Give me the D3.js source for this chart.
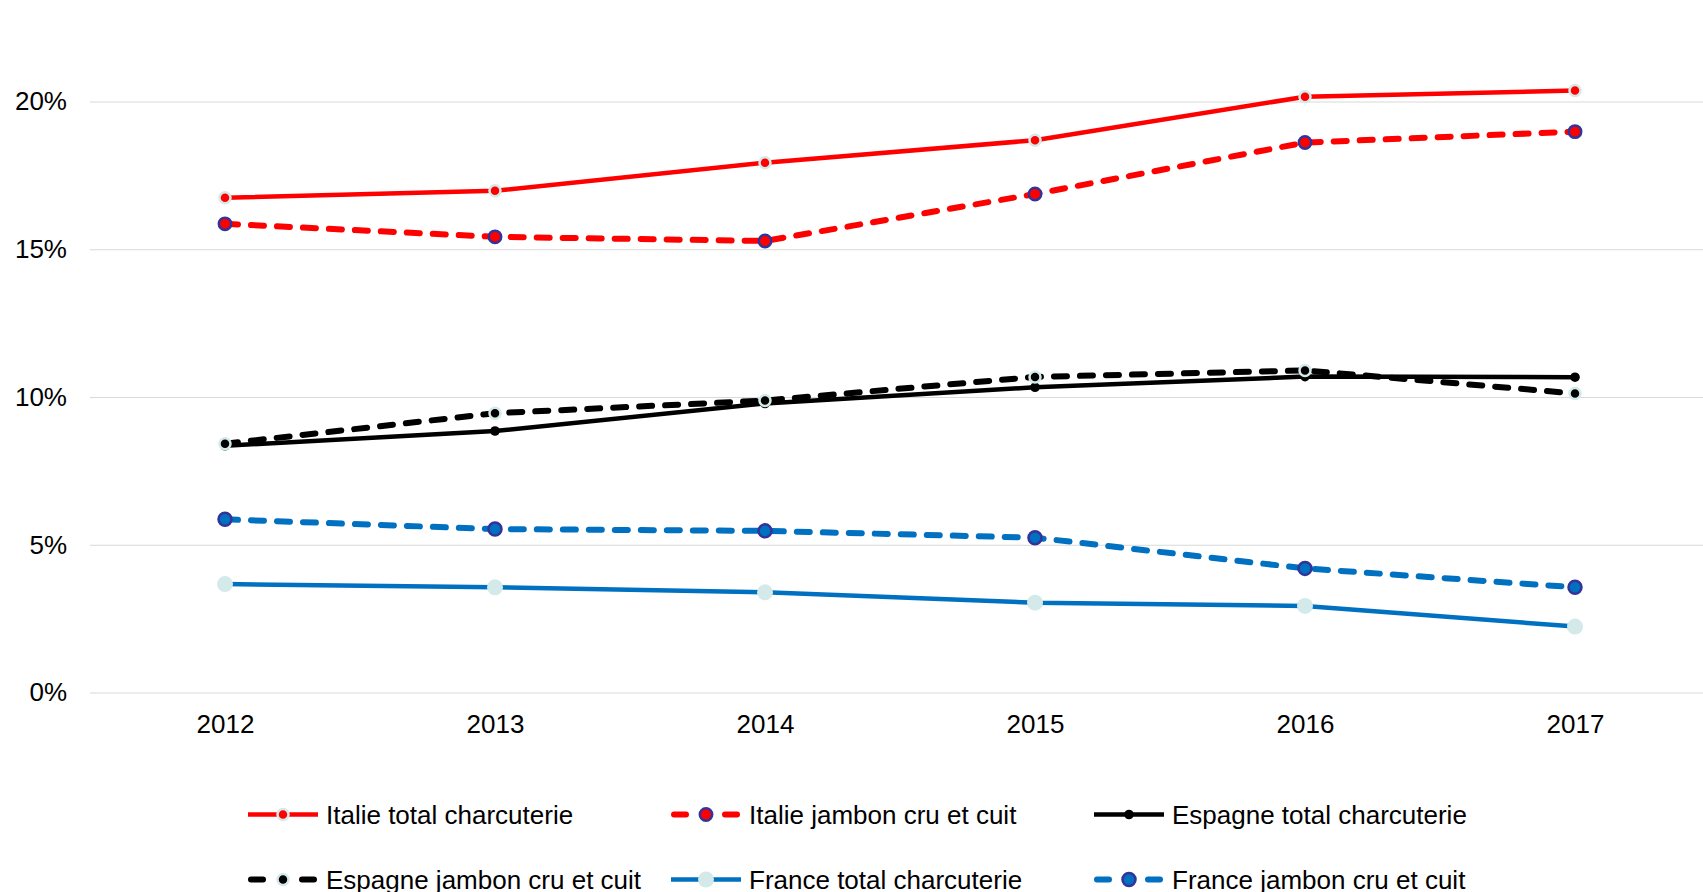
<!DOCTYPE html>
<html>
<head>
<meta charset="utf-8">
<script src="https://cdn.jsdelivr.net/npm/d3@7"></script>
<style>
  body { margin: 0; background: #fff; }
  svg { display: block; font-family: "Liberation Sans", Arial, sans-serif; }
</style>
</head>
<body>
<svg id="chart" width="1703" height="892"></svg>
<script>
// data (percent)
const years = ["2012", "2013", "2014", "2015", "2016", "2017"];
const italieTotal = [16.74, 16.98, 17.93, 18.69, 20.16, 20.37];
const italieJambon = [15.86, 15.42, 15.28, 16.87, 18.61, 18.98];
const espagneTotal = [8.35, 8.85, 9.78, 10.33, 10.69, 10.67];
const espagneJambon = [8.42, 9.45, 9.88, 10.68, 10.90, 10.12];
const franceTotal = [3.67, 3.56, 3.39, 3.04, 2.93, 2.23];
const franceJambon = [5.86, 5.53, 5.47, 5.24, 4.20, 3.56];
const yTicks = [0, 5, 10, 15, 20];

const RED = "#ff0000", BLUE = "#0070c0", BLACK = "#000000";
const CYAN = "#d4eaea", NAVY = "#333399";
const DASH = "13,13";

const series = [
  { name: "Italie total charcuterie", values: italieTotal, color: RED, dash: null, width: 4.5, r: 5.5, fill: RED, stroke: CYAN, sw: 2.5 },
  { name: "Italie jambon cru et cuit", values: italieJambon, color: RED, dash: DASH, width: 6, r: 6.2, fill: RED, stroke: NAVY, sw: 2.5 },
  { name: "Espagne total charcuterie", values: espagneTotal, color: BLACK, dash: null, width: 4.5, r: 4.8, fill: BLACK, stroke: "none", sw: 0 },
  { name: "Espagne jambon cru et cuit", values: espagneJambon, color: BLACK, dash: DASH, width: 6, r: 5.5, fill: BLACK, stroke: CYAN, sw: 2.5 },
  { name: "France total charcuterie", values: franceTotal, color: BLUE, dash: null, width: 4.5, r: 8, fill: CYAN, stroke: "none", sw: 0 },
  { name: "France jambon cru et cuit", values: franceJambon, color: BLUE, dash: DASH, width: 6, r: 6.5, fill: BLUE, stroke: NAVY, sw: 2.5 }
];

const W = 1703;
const plot = { left: 90, right: 1710, top: 101.5, bottom: 692.5 };
const FONT = 26;

const svg = d3.select("#chart");

const x = d3.scalePoint()
    .domain(years)
    .range([plot.left, plot.right])
    .padding(0.5);

const y = d3.scaleLinear()
    .domain([0, 20])
    .range([plot.bottom, plot.top]);

// y axis + gridlines
const yAxis = svg.append("g")
    .attr("transform", `translate(${plot.left},0)`)
    .call(d3.axisLeft(y)
        .tickValues(yTicks)
        .tickSize(-(W - plot.left))
        .tickPadding(23)
        .tickFormat(d => d + "%"));
yAxis.select(".domain").remove();
yAxis.selectAll(".tick line").attr("stroke", "#d9d9d9").attr("stroke-width", 1.2);
yAxis.selectAll(".tick text")
    .attr("font-size", FONT)
    .attr("font-family", "Liberation Sans, Arial, sans-serif")
    .attr("fill", "#000");

// x axis labels
const xAxis = svg.append("g")
    .attr("transform", `translate(0,${plot.bottom})`)
    .call(d3.axisBottom(x).tickSize(0).tickPadding(22));
xAxis.select(".domain").remove();
xAxis.selectAll(".tick text")
    .attr("font-size", FONT)
    .attr("font-family", "Liberation Sans, Arial, sans-serif")
    .attr("fill", "#000");

const line = d3.line()
    .x((d, i) => x(years[i]))
    .y(d => y(d));

// lines
series.forEach(s => {
    svg.append("path")
        .datum(s.values)
        .attr("fill", "none")
        .attr("stroke", s.color)
        .attr("stroke-width", s.width)
        .attr("stroke-linecap", s.dash ? "round" : "butt")
        .attr("stroke-linejoin", "round")
        .attr("stroke-dasharray", s.dash)
        .attr("d", line);
});

// markers
series.forEach(s => {
    svg.append("g")
        .selectAll("circle")
        .data(s.values)
        .join("circle")
        .attr("cx", (d, i) => x(years[i]))
        .attr("cy", d => y(d))
        .attr("r", s.r)
        .attr("fill", s.fill)
        .attr("stroke", s.stroke)
        .attr("stroke-width", s.sw);
});

// legend, 3 columns x 2 rows
const legend = svg.append("g");
series.forEach((s, i) => {
    const col = i % 3, row = Math.floor(i / 3);
    const lx = 248 + col * 423;
    const ly = 814.5 + row * 65;
    const g = legend.append("g").attr("transform", `translate(${lx},${ly})`);
    if (s.dash) {
        g.append("line").attr("x1", 3).attr("x2", 15).attr("y1", 0).attr("y2", 0)
            .attr("stroke", s.color).attr("stroke-width", s.width).attr("stroke-linecap", "round");
        g.append("line").attr("x1", 54).attr("x2", 66).attr("y1", 0).attr("y2", 0)
            .attr("stroke", s.color).attr("stroke-width", s.width).attr("stroke-linecap", "round");
    } else {
        g.append("line").attr("x1", 0).attr("x2", 70).attr("y1", 0).attr("y2", 0)
            .attr("stroke", s.color).attr("stroke-width", s.width);
    }
    g.append("circle")
        .attr("cx", 35).attr("cy", 0)
        .attr("r", s.r)
        .attr("fill", s.fill)
        .attr("stroke", s.stroke)
        .attr("stroke-width", s.sw);
    g.append("text")
        .attr("x", 78)
        .attr("y", 9)
        .attr("font-size", FONT)
        .attr("fill", "#000")
        .text(s.name);
});
</script>
</body>
</html>
